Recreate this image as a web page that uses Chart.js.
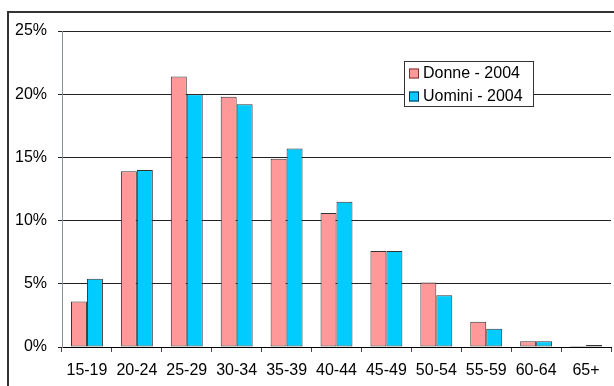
<!DOCTYPE html>
<html>
<head>
<meta charset="utf-8">
<script src="https://cdn.jsdelivr.net/npm/chart.js@4/dist/chart.umd.min.js"></script>
<style>
  html, body { margin: 0; padding: 0; background: #fff; }
  #wrap { width: 614px; height: 386px; position: relative; }
</style>
</head>
<body>
<div id="wrap"><canvas id="c" width="614" height="386"></canvas></div>
<script>
// Age classes and share (%) of each class, 2004
const categories = ['15-19', '20-24', '25-29', '30-34', '35-39', '40-44', '45-49', '50-54', '55-59', '60-64', '65+'];
const donne2004  = [3.6, 13.9, 21.4, 19.8, 14.9, 10.6, 7.6, 5.1, 2.0, 0.45, 0.08];
const uomini2004 = [5.4, 14.0, 20.0, 19.2, 15.7, 11.5, 7.6, 4.1, 1.45, 0.45, 0.16];
const yTicks = [0, 5, 10, 15, 20, 25];

const FONT = '"Liberation Sans", Arial, sans-serif';

// Outer frame around the whole chart
const framePlugin = {
  id: 'frame',
  afterDraw(chart) {
    const ctx = chart.ctx;
    ctx.save();
    ctx.strokeStyle = '#333';
    ctx.lineWidth = 2;
    ctx.strokeRect(8, 12, 800, 600);
    ctx.restore();
  }
};

// Boxed legend inside the plot area
const boxLegend = {
  id: 'boxLegend',
  afterDraw(chart) {
    const ctx = chart.ctx;
    const x = 404.5, y = 61.5, w = 129, h = 45;
    ctx.save();
    ctx.fillStyle = '#fff';
    ctx.fillRect(x, y, w, h);
    ctx.strokeStyle = '#333';
    ctx.lineWidth = 1;
    ctx.strokeRect(x, y, w, h);
    ctx.font = '16px ' + FONT;
    ctx.textBaseline = 'middle';
    const rows = [73.5, 96.5];
    const edges = ['#803030', '#003050'];
    chart.data.datasets.forEach((ds, i) => {
      const cy = rows[i];
      ctx.fillStyle = ds.backgroundColor;
      ctx.fillRect(409, cy - 5, 10, 10);
      ctx.strokeStyle = edges[i];
      ctx.strokeRect(409.5, cy - 4.5, 9, 9);
      ctx.fillStyle = '#000';
      ctx.fillText(ds.label, 423, cy);
    });
    ctx.restore();
  }
};

new Chart(document.getElementById('c'), {
  type: 'bar',
  data: {
    labels: categories,
    datasets: [
      { label: 'Donne - 2004', data: donne2004, backgroundColor: '#FF9999', borderColor: '#333', borderWidth: 1, borderSkipped: false },
      { label: 'Uomini - 2004', data: uomini2004, backgroundColor: '#00CCFF', borderColor: '#333', borderWidth: 1, borderSkipped: false }
    ]
  },
  options: {
    responsive: false,
    animation: false,
    devicePixelRatio: 1,
    layout: { padding: { top: 31, right: 3, left: 0, bottom: 0 } },
    datasets: { bar: { categoryPercentage: 0.64, barPercentage: 1.0 } },
    plugins: { legend: { display: false }, tooltip: { enabled: false } },
    scales: {
      x: {
        afterFit(s) { s.height = 39; },
        grid: { offset: true, drawOnChartArea: false, drawTicks: true, tickLength: 5, color: '#444', lineWidth: 1 },
        border: { color: '#000', width: 1 },
        ticks: { color: '#000', font: { family: FONT, size: 16 }, padding: 9, maxRotation: 0, autoSkip: false }
      },
      y: {
        min: 0, max: 25,
        afterFit(s) { s.width = 62; },
        afterBuildTicks(s) { s.ticks = yTicks.map(v => ({ value: v })); },
        grid: { color: '#222', lineWidth: 1, tickLength: 4, drawTicks: true },
        border: { color: '#8a9399', width: 1 },
        ticks: { color: '#000', font: { family: FONT, size: 16 }, padding: 11, callback: v => v + '%' }
      }
    }
  },
  plugins: [framePlugin, boxLegend]
});
</script>
</body>
</html>
